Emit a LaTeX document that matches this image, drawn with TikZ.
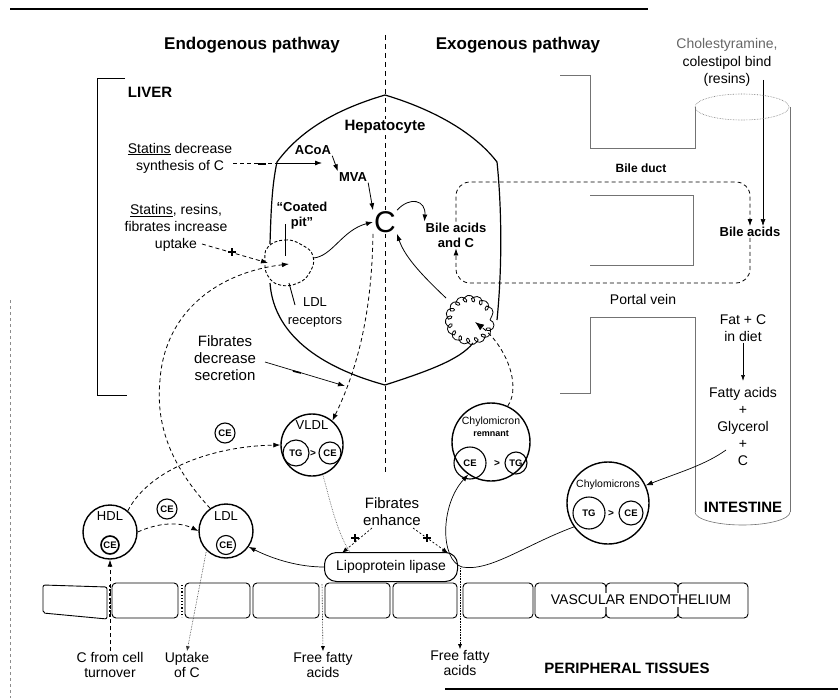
\documentclass[tikz,border=0pt]{standalone}
\usepackage{fontspec}
\setmainfont{Liberation Sans}
\usetikzlibrary{arrows.meta,decorations.pathmorphing,shapes.geometric}
\newcommand{\fsz}[2]{\fontsize{#1}{#2}\selectfont}
\begin{document}
\begin{tikzpicture}[x=1pt,y=-1pt,
  lab/.style={font=\fsz{14}{17}, align=center, inner sep=1pt},
  title/.style={font=\fsz{17}{20}\bfseries, inner sep=1pt},
  blab/.style={font=\fsz{13}{15}\bfseries, align=center, inner sep=1pt},
  lp/.style={circle, draw, line width=1.4pt, inner sep=0pt},
  mini/.style={circle, draw, line width=1.1pt, inner sep=0pt, font=\fsz{9.5}{10}\bfseries},
  arr/.style={-{Latex[length=7pt,width=5pt]}, line width=0.8pt},
  darr/.style={arr, dash pattern=on 4pt off 3pt},
  dotarr/.style={-{Latex[length=5pt,width=4pt]}, line width=0.6pt, densely dotted},
  wall/.style={draw=black!55, line width=0.6pt},
  cell/.style={draw, line width=0.9pt, rounded corners=4pt}]
\useasboundingbox (0,0) rectangle (838,698);

% frame lines
\draw[line width=1.8pt] (10,9) -- (648,9);
\draw[line width=1.6pt] (445,689) -- (838,689);
\draw[black!45, dashed, line width=0.7pt] (10,300) -- (10,698);

% titles
\node[title] (endo) at (252,45) {Endogenous pathway};
\node[title] (exo) at (518,45) {Exogenous pathway};
\node[lab, text=black!60] (chol1) at (727,45) {Cholestyramine,};
\node[lab] (resins) at (727,71) {colestipol bind\\(resins)};

% centre dashed line
\draw[dash pattern=on 5pt off 4pt, line width=1pt] (385,35) -- (385,473);

% liver bracket
\draw[line width=1pt] (125,79) -- (97,79) -- (97,395) -- (127,395);
\node[font=\fsz{15}{17}\bfseries] (liver) at (150,92) {LIVER};

% hepatocyte outline
\draw[line width=1.2pt] (270,244) .. controls (271,210) and (272,185) .. (277,162)
  .. controls (305,124) and (348,106) .. (385,95)
  .. controls (422,106) and (470,127) .. (497,162)
  .. controls (501,200) and (503,260) .. (497,320);
\draw[line width=1.2pt] (270,283) .. controls (274,340) and (330,370) .. (385,385)
  .. controls (425,372) and (460,360) .. (473,343);

\node[font=\fsz{15}{17}\bfseries, fill=white, inner sep=1pt] (hep) at (385,127) {Hepatocyte};
\node[font=\fsz{30}{32}, fill=white, inner sep=1pt] (chol) at (385,222) {C};
\node[blab] (acoa) at (313,150) {ACoA};
\node[blab] (mva) at (353,177) {MVA};
\draw[arr] (acoa.south east) -- (mva.north west);
\draw[arr] (mva.south east) -- (chol.north west);

% statins decrease synthesis
\node[lab] (s1) at (180,158) {\underline{Statins} decrease\\synthesis of C};
\coordinate (hepL) at (276,163);
\coordinate (acoaIn) at (322,163);
\draw[dash pattern=on 4pt off 3pt, line width=0.8pt] (s1.east |- hepL) -- (hepL);
\draw[line width=1.6pt] (258,164) -- (266,164);
\draw[arr] (hepL) -- (acoaIn);

% statins, resins, fibrates increase uptake
\node[lab] (s2) at (176,228) {\underline{Statins}, resins,\\fibrates increase\\uptake};
\coordinate (pit) at (289,264);
\coordinate (upin) at (268,263);
\draw[darr] (202,244) -- (upin);
\draw[line width=1.3pt] (228,252) -- (236,252) (232,248) -- (232,256);

% coated pit
\draw[dash pattern=on 3pt off 2pt, line width=0.9pt] plot[smooth cycle, tension=0.8] coordinates
  {(268,247) (285,240) (302,245) (313,256) (310,272) (298,283) (280,285) (268,276) (265,262)};
\node[font=\fsz{13}{15}\bfseries, align=center, inner sep=1pt] (cp) at (302,216) {“Coated\\pit”};
\draw[line width=0.9pt] (285,224) -- (285,256);
\node[lab, font=\fsz{13}{18}] (ldlr) at (315,312) {LDL\\receptors};
\draw[line width=0.9pt] (289,283) -- (295,305);

% pit -> C, C -> bile acids
\draw[arr] (313,258) .. controls (332,257) and (342,230) .. (chol.west);
\node[blab] (ba1) at (456,235) {Bile acids\\and C};
\draw[arr] (chol.north east) .. controls (410,196) and (426,200) .. (ba1.north west);

% right receptor cluster
\coordinate (rc) at (470,320);
\draw[decorate, decoration={coil, aspect=0.8, segment length=8pt, amplitude=4pt}, line width=0.8pt]
  (rc) circle[radius=20];
\draw[arr] (446,298) .. controls (425,278) and (405,258) .. (chol.south east);

% bile duct / portal vein loop
\node[blab] (ba2) at (750,232) {Bile acids};
\draw[darr, rounded corners=14pt] (ba1.north) -- (456,182) -- (750,182) -- (ba2.north);
\draw[darr, rounded corners=14pt] (ba2.south) -- (750,283) -- (456,283) -- (ba1.south);
\node[font=\fsz{12}{14}\bfseries] (bd) at (641,168) {Bile duct};
\node[lab] (pv) at (643,299) {Portal vein};

% resins arrow
\coordinate (rtop) at (763,80);
\draw[-{Latex[length=7pt,width=5pt]}, line width=0.6pt] (rtop) -- (ba2.north -| rtop);

% intestine walls
\draw[wall] (560,75) -- (590,75) -- (590,148) -- (695,148) -- (695,107);
\draw[wall] (590,195) -- (693,195) -- (693,265) -- (590,265);
\draw[wall] (560,393) -- (590,393) -- (590,317) -- (695,317) -- (695,512);
\draw[wall] (790,107) -- (790,512);
\draw[wall, densely dotted] (742,107) ellipse [x radius=47, y radius=13];
\draw[wall] (695,512) arc[start angle=180, end angle=0, x radius=47.5, y radius=13];

% intestine text
\node[lab] (diet) at (743,328) {Fat + C\\in diet};
\draw[-{Latex[length=6pt,width=4pt]}, line width=0.6pt] (diet.south) -- (743,381);
\node[lab] (fa) at (743,426) {Fatty acids\\+\\Glycerol\\+\\C};
\node[font=\fsz{15}{17}\bfseries] (intest) at (743,507) {INTESTINE};

% lipoproteins
\node[lp, minimum size=54] (hdl) at (110,532) {};
\node[font=\fsz{13}{14}] (hdlt) at (110,516) {HDL};
\node[mini, minimum size=18, line width=1.6pt] (hdlce) at (110,545) {CE};

\node[lp, minimum size=54] (ldl) at (226,531) {};
\node[font=\fsz{13}{14}] (ldlt) at (226,516) {LDL};
\node[mini, minimum size=19] (ldlce) at (226,545) {CE};

\node[mini, minimum size=20] (ce1) at (167,509) {CE};
\node[mini, minimum size=20] (ce2) at (225,433) {CE};

\node[lp, minimum size=62] (vldl) at (312,445) {};
\node[font=\fsz{13}{14}] (vldlt) at (312,425) {VLDL};
\node[mini, minimum size=26] (vtg) at (296,453) {TG};
\node[mini, minimum size=22] (vce) at (330,453) {CE};
\node[font=\fsz{10}{10}\bfseries, inner sep=0pt] (vgt) at (313,453) {>};

\node[lp, minimum size=78] (rem) at (491,442) {};
\node[font=\fsz{10.5}{11}] (remt1) at (491,422) {Chylomicron};
\node[font=\fsz{9}{10}\bfseries] (remt2) at (491,434) {remnant};
\node[mini, minimum size=32] (rce) at (470,463) {CE};
\node[mini, minimum size=22] (rtg) at (516,463) {TG};
\node[font=\fsz{10}{10}\bfseries, inner sep=0pt] (rgt) at (497,463) {>};

\node[lp, minimum size=82] (chy) at (608,503) {};
\node[font=\fsz{10.5}{11}] (chyt) at (608,485) {Chylomicrons};
\node[mini, minimum size=32] (ctg) at (589,513) {TG};
\node[mini, minimum size=24] (cce) at (631,513) {CE};
\node[font=\fsz{10}{10}\bfseries, inner sep=0pt] (cgt) at (611,513) {>};

% lipoprotein lipase
\node[draw, rounded corners=12pt, line width=1pt, minimum width=133, minimum height=29, lab] (lip) at (391,567) {Lipoprotein lipase};

% fibrates
\node[lab, font=\fsz{15}{17}] (fd) at (225,358) {Fibrates\\decrease\\secretion};
\coordinate (fdin) at (345,386);
\draw[arr, line width=0.7pt] (265,362) -- (fdin);
\draw[line width=1.6pt] (293,371) -- (301,373);
\node[lab, font=\fsz{15}{17}] (fe) at (392,512) {Fibrates\\enhance};
\coordinate (feL) at (342,553);
\coordinate (feR) at (448,553);
\draw[-{Latex[length=6pt,width=4.5pt]}, line width=0.7pt, dash pattern=on 2pt off 2pt] (372,528) -- (feL);
\draw[-{Latex[length=6pt,width=4.5pt]}, line width=0.7pt, dash pattern=on 2pt off 2pt] (413,528) -- (feR);
\draw[line width=1.3pt] (351,538) -- (359,538) (355,534) -- (355,542);
\draw[line width=1.3pt] (423,538) -- (431,538) (427,534) -- (427,542);

% dashed pathways
\draw[darr] (chol.south west) .. controls (372,300) and (362,360) .. (vldl.50);
\draw[darr] (ldl.125) .. controls (175,470) and (155,430) .. (160,380)
  .. controls (165,310) and (220,272) .. (pit);
\draw[darr] (hdl.50) .. controls (150,468) and (215,446) .. (vldl.west);
\draw[darr] (hdl.east) .. controls (160,522) and (180,522) .. (ldl.west);
\draw[-{Latex[length=9pt,width=7pt]}, line width=0.8pt, dash pattern=on 4pt off 3pt]
  (rem.65) .. controls (522,385) and (505,345) .. (475,322);
\draw[black!60, densely dotted, line width=0.7pt] (vldl.-70) .. controls (330,500) and (336,530) .. (lip.160);

% solid lipase pathways
\draw[arr, line width=0.7pt] (lip.west) .. controls (300,567) and (275,560) .. (ldl.-35);
\draw[arr, line width=0.7pt] (chy.215) .. controls (525,545) and (490,572) .. (462,567)
  .. controls (440,560) and (440,505) .. (rem.235);
\coordinate (ci) at (726,450);
\draw[arr, line width=0.7pt] (ci) .. controls (705,465) and (680,472) .. (chy.25);

% endothelium
\draw[line width=0.9pt, rounded corners=2pt] (43,585) -- (107,587) -- (107,619) -- (43,613) -- cycle;
\draw[cell] (112,583) rectangle (178,618);
\draw[cell] (185,583) rectangle (250,618);
\draw[cell] (253,583) rectangle (319,618);
\draw[cell] (325,583) rectangle (390,618);
\draw[cell] (393,583) rectangle (457,618);
\draw[cell] (463,583) rectangle (533,618);
\draw[cell] (535,583) rectangle (606,618);
\draw[cell] (606,583) rectangle (678,618);
\draw[cell] (678,583) rectangle (748,618);
\node[lab, fill=white, inner sep=2pt] (ve) at (641,600) {VASCULAR ENDOTHELIUM};
\draw[line width=2.2pt, dotted] (110,585) -- (110,617);
\draw[line width=1.2pt, dotted] (182,585) -- (182,617);

% bottom labels and arrows
\node[lab, font=\fsz{14}{15}] (cft) at (110,665) {C from cell\\turnover};
\draw[darr] (cft.north) -- (hdl.south);
\node[lab, font=\fsz{14}{15}] (upt) at (187,665) {Uptake\\of C};
\draw[dotarr, black!80] (ldl.225) -- (upt.north);
\node[lab, font=\fsz{14}{15}] (ffa1) at (323,665) {Free fatty\\acids};
\coordinate (g1) at (322,584);
\draw[dotarr] (g1) -- (ffa1.north);
\node[lab, font=\fsz{14}{15}] (ffa2) at (460,663) {Free fatty\\acids};
\coordinate (g2) at (460,568);
\draw[dotarr] (g2) -- (ffa2.north);
\node[font=\fsz{15}{17}\bfseries] (pt) at (627,668) {PERIPHERAL TISSUES};
\end{tikzpicture}
\end{document}
